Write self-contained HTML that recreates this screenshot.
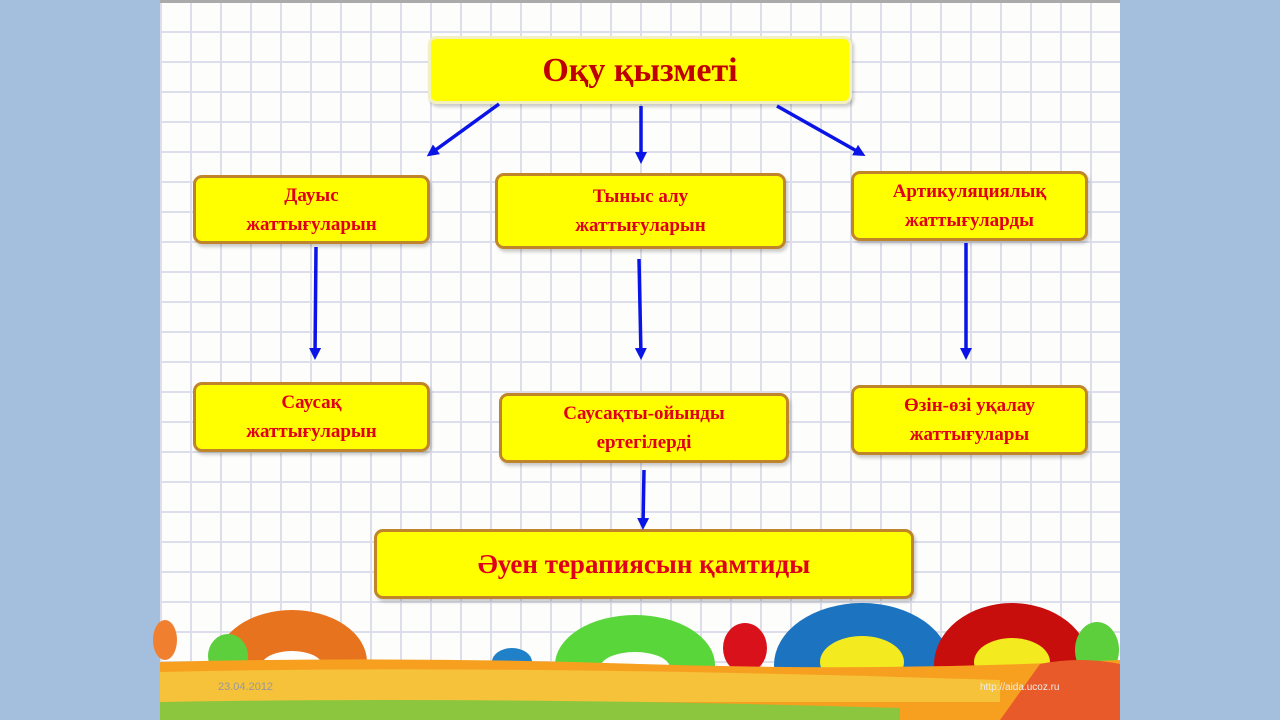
<!DOCTYPE html>
<html><head><meta charset="utf-8"><style>
body{margin:0;width:1280px;height:720px;overflow:hidden;background:#a3bfdd;position:relative;font-family:"Liberation Serif",serif}
.slide{position:absolute;left:160px;top:0;width:960px;height:720px;background-color:#fdfdfb;
background-image:linear-gradient(#dcdfeb 2px,transparent 2px),linear-gradient(90deg,#dcdfeb 2px,transparent 2px);background-size:30px 30px;background-position:0 28px, 30px 0;border-top:3px solid #aaa;box-sizing:border-box}
.box{position:absolute;background:#ffff00;border:3px solid #c0852a;border-radius:9px;box-sizing:border-box;color:#e0001a;font-weight:bold;text-align:center;display:flex;align-items:center;justify-content:center;font-size:19px;line-height:29px;box-shadow:2px 3px 3px rgba(0,0,0,.2)}
svg{position:absolute;left:0;top:0}
</style></head><body>
<div class="slide"></div>
<svg width="1280" height="720">
<g>
<ellipse cx="292" cy="662" rx="75" ry="52" fill="#e8731e"/>
<ellipse cx="292" cy="665" rx="30" ry="14" fill="#fdfdfb"/>
<ellipse cx="635" cy="665" rx="80" ry="50" fill="#58d63a"/>
<ellipse cx="635" cy="668" rx="35" ry="16" fill="#fdfdfb"/>
<ellipse cx="862" cy="665" rx="88" ry="62" fill="#1c73c0"/>
<ellipse cx="862" cy="662" rx="42" ry="26" fill="#f3ea20"/>
<ellipse cx="1012" cy="665" rx="78" ry="62" fill="#c80d0d"/>
<ellipse cx="1012" cy="662" rx="38" ry="24" fill="#f3ea20"/>
<ellipse cx="745" cy="648" rx="22" ry="25" fill="#d9111a"/>
<ellipse cx="228" cy="656" rx="20" ry="22" fill="#5ecf3c"/>
<ellipse cx="1097" cy="650" rx="22" ry="28" fill="#5ecf3c"/>
<ellipse cx="512" cy="662" rx="20" ry="14" fill="#2080c8"/>
<ellipse cx="165" cy="640" rx="12" ry="20" fill="#f08030"/>
</g>
<path d="M160 662 Q400 656 640 664 T1120 660 L1120 720 L160 720Z" fill="#f7a020"/>
<path d="M160 672 Q500 664 1000 680 L1000 702 L160 702Z" fill="#f5c23a"/>
<path d="M160 702 Q500 696 900 708 L900 720 L160 720Z" fill="#8cc63f"/>
<path d="M1040 664 Q1080 656 1120 664 L1120 720 L1000 720Z" fill="#e85a2a"/>
<text x="218" y="690" font-family="Liberation Sans" font-size="11" fill="#999">23.04.2012</text>
<text x="980" y="690" font-family="Liberation Sans" font-size="10" fill="#eee">http://aida.ucoz.ru</text>
</svg>
<div class="box" style="left:428px;top:36px;width:424px;height:68px;border-color:#f2f0c0;font-size:34px;color:#c00000;border-radius:8px">Оқу қызметі</div>
<div class="box" style="left:193px;top:175px;width:237px;height:69px">Дауыс<br>жаттығуларын</div>
<div class="box" style="left:495px;top:173px;width:291px;height:76px">Тыныс алу<br>жаттығуларын</div>
<div class="box" style="left:851px;top:171px;width:237px;height:70px">Артикуляциялық<br>жаттығуларды</div>
<div class="box" style="left:193px;top:382px;width:237px;height:70px">Саусақ<br>жаттығуларын</div>
<div class="box" style="left:499px;top:393px;width:290px;height:70px">Саусақты-ойынды<br>ертегілерді</div>
<div class="box" style="left:851px;top:385px;width:237px;height:70px">Өзін-өзі уқалау<br>жаттығулары</div>
<div class="box" style="left:374px;top:529px;width:540px;height:70px;font-size:27px;color:#e0001a">Әуен терапиясын қамтиды</div>
<svg width="1280" height="720">
<defs><marker id="a" markerWidth="12" markerHeight="12" refX="8" refY="6" orient="auto" markerUnits="userSpaceOnUse"><path d="M0,0L12,6L0,12z" fill="#0a14e6"/></marker></defs>
<g stroke="#0a14e6" stroke-width="3.5" marker-end="url(#a)">
<line x1="499" y1="104" x2="430" y2="154"/>
<line x1="641" y1="106" x2="641" y2="160"/>
<line x1="777" y1="106" x2="862" y2="154"/>
<line x1="316" y1="247" x2="315" y2="356"/>
<line x1="639" y1="259" x2="641" y2="356"/>
<line x1="966" y1="243" x2="966" y2="356"/>
<line x1="644" y1="470" x2="643" y2="526"/>
</g>
</svg>
</body></html>
